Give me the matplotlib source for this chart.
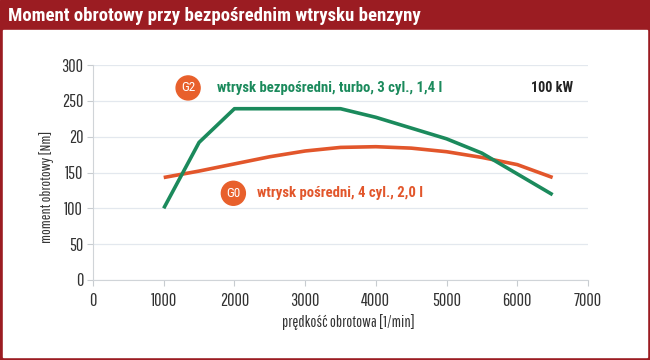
import matplotlib
matplotlib.use("Agg")
import matplotlib.pyplot as plt
from matplotlib.patches import Rectangle, Ellipse

FAM = "Roboto Condensed"
AXFAM = ["Pathway Gothic One", "Roboto Condensed", "DejaVu Sans"]
plt.rcParams['font.family'] = [FAM, 'DejaVu Sans']

title = "Moment obrotowy przy bezpośrednim wtrysku benzyny"
xlabel = "prędkość obrotowa [1/min]"
ylabel = "moment obrotowy [Nm]"

green_rpm = [1000, 1500, 2000, 3500, 4000, 5000, 5500, 6500]
green_nm = [100, 192, 239, 239, 227, 197, 177, 119]
red_rpm = [1000, 1500, 2000, 2500, 3000, 3500, 4000, 4500, 5000, 5500, 6000, 6500]
red_nm = [143, 152, 162, 172, 180, 185, 186, 184, 179, 171, 161, 143]

xticks = [0, 1000, 2000, 3000, 4000, 5000, 6000, 7000]
yticks = [0, 50, 100, 150, 200, 250, 300]
ytick_labels = ["0", "50", "100", "150", "20", "250", "300"]

label_g2 = "wtrysk bezpośredni, turbo, 3 cyl., 1,4 l"
label_g0 = "wtrysk pośredni, 4 cyl., 2,0 l"
power = "100 kW"

FRAME = "#9B1C22"
GREEN = "#1B8A5C"
RED = "#E2562B"
BADGE = "#E8602C"
GRID = "#E3E8EE"
TXT = "#333333"

fig = plt.figure(figsize=(6.5, 3.6), dpi=100)
fig.patches.append(Rectangle((0, 0), 1, 1, transform=fig.transFigure, color=FRAME, zorder=-10))
fig.patches.append(Rectangle((3/650, 3/360), 644/650, (360-3-30)/360, transform=fig.transFigure,
                             color="white", zorder=-9))
fig.text(8/650, 1-16/360, title, color="white", fontsize=13.5, fontweight="bold", va="center", ha="left")

ax = fig.add_axes([93/650, 1-280/360, (588-93)/650, (280-65)/360])
ax.set_xlim(0, 7000)
ax.set_ylim(0, 300)
ax.set_xticks(xticks)
ax.set_yticks(yticks)
ax.set_yticklabels(ytick_labels)
for s in ["top", "right"]:
    ax.spines[s].set_visible(False)
for s in ["left", "bottom"]:
    ax.spines[s].set_color("#D0D4D8")
ax.tick_params(axis="both", colors="#C8CCD0", labelcolor=TXT, labelsize=13, length=4)
ax.tick_params(axis="x", pad=5)
ax.tick_params(axis="y", pad=3)
for lab in ax.get_xticklabels() + ax.get_yticklabels():
    lab.set_family(AXFAM)
ax.grid(axis="y", color=GRID, linewidth=0.9)
ax.set_axisbelow(True)

ax.plot(red_rpm, red_nm, color=RED, linewidth=2.6, solid_capstyle="butt")
ax.plot(green_rpm, green_nm, color=GREEN, linewidth=2.6, solid_capstyle="butt")

ax.set_xlabel(xlabel, fontsize=11.5, color=TXT, family=AXFAM)
ax.set_ylabel(ylabel, fontsize=11, color=TXT, family=AXFAM)
ax.xaxis.set_label_coords((348-93)/495, -(322-280)/215)
ax.yaxis.set_label_coords(-(93-47)/495, (280-187)/215)
ax.xaxis.label.set_va("center")
ax.yaxis.label.set_va("center")

def badge(x, y, t):
    ax.add_patch(Ellipse((x, y), 24/70.7*1000, 24/0.7167, color=BADGE, zorder=5, clip_on=False))
    ax.text(x, y, t, color="white", fontsize=9.5, ha="center", va="center", zorder=6)

badge(1345, 268, "G2")
ax.text(1750, 268, label_g2, color=GREEN, fontsize=10.6, fontweight="bold", va="center", ha="left")
badge(1985, 121, "G0")
ax.text(2320, 121, label_g0, color=RED, fontsize=10.6, fontweight="bold", va="center", ha="left")
ax.text(6790, 268, power, color="#222222", fontsize=10.2, fontweight="bold", va="center", ha="right")

fig.savefig("out.png", dpi=100)
